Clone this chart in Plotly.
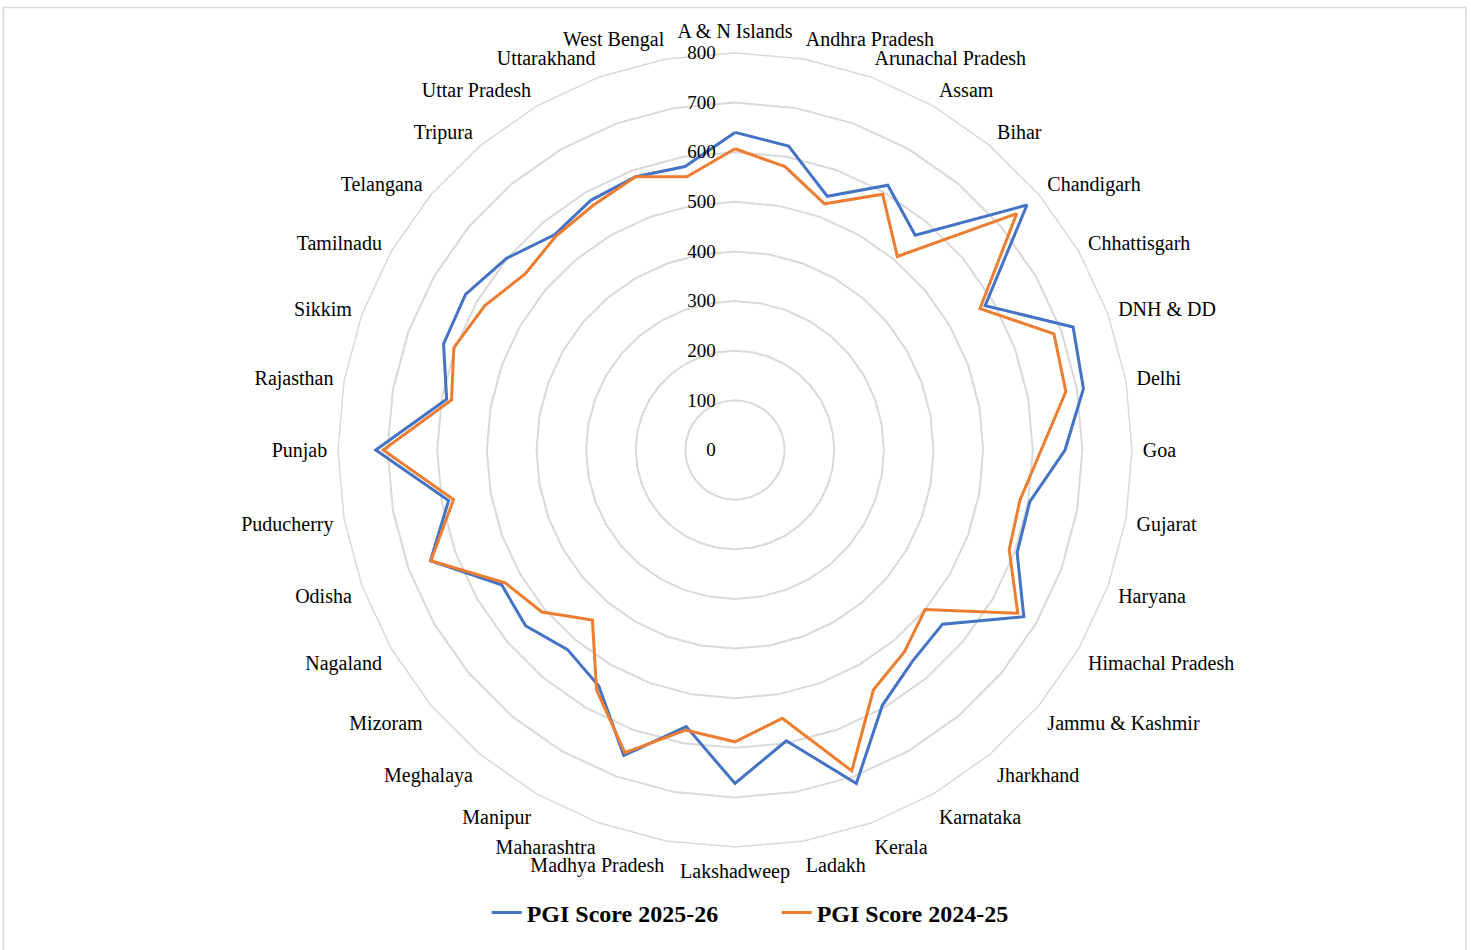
import plotly.graph_objects as go

categories = ["A & N Islands", "Andhra Pradesh", "Arunachal Pradesh", "Assam", "Bihar",
              "Chandigarh", "Chhattisgarh", "DNH & DD", "Delhi", "Goa", "Gujarat", "Haryana",
              "Himachal Pradesh", "Jammu & Kashmir", "Jharkhand", "Karnataka", "Kerala",
              "Ladakh", "Lakshadweep", "Madhya Pradesh", "Maharashtra", "Manipur",
              "Meghalaya", "Mizoram", "Nagaland", "Odisha", "Puducherry", "Punjab",
              "Rajasthan", "Sikkim", "Tamilnadu", "Telangana", "Tripura", "Uttar Pradesh",
              "Uttarakhand", "West Bengal"]

pgi_2025_26 = [640, 622, 544, 616, 565, 768, 582, 725, 713, 665, 603, 605,
               672, 546, 556, 594, 715, 595, 672, 566, 655, 549,
               525, 551, 543, 653, 586, 724, 590, 625, 627, 601,
               566, 581, 586, 580]

pgi_2024_25 = [607, 580, 528, 595, 509, 741, 570, 684, 677, 617, 583, 588,
               658, 500, 531, 558, 688, 549, 588, 573, 649, 558,
               447, 508, 535, 652, 576, 709, 580, 603, 582, 552,
               562, 570, 586, 559]

radial_ticks = [0, 100, 200, 300, 400, 500, 600, 700, 800]

BLUE = "#4472C4"
ORANGE = "#ED7D31"
GRID = "#D9D9D9"
FONT = "Liberation Serif"

fig = go.Figure()
fig.add_trace(go.Scatterpolar(
    r=pgi_2025_26 + pgi_2025_26[:1], theta=categories + categories[:1],
    mode="lines", name="PGI Score 2025-26",
    line=dict(color=BLUE, width=3)))
fig.add_trace(go.Scatterpolar(
    r=pgi_2024_25 + pgi_2024_25[:1], theta=categories + categories[:1],
    mode="lines", name="PGI Score 2024-25",
    line=dict(color=ORANGE, width=3)))

W, H = 1471, 950
cx, cy, R = 735, 450, 397

fig.update_layout(
    width=W, height=H,
    margin=dict(l=0, r=0, t=0, b=0),
    paper_bgcolor="white", plot_bgcolor="white",
    font=dict(family=FONT, color="black", size=20),
    showlegend=True,
    legend=dict(orientation="h", x=0.528, xanchor="center", y=(H - 913) / H, yanchor="middle",
                font=dict(family=FONT, size=24, color="black", weight="bold"),
                entrywidth=245, entrywidthmode="pixels"),
    polar=dict(
        domain=dict(x=[(cx - R) / W, (cx + R) / W], y=[(H - cy - R) / H, (H - cy + R) / H]),
        bgcolor="white",
        gridshape="linear",
        angularaxis=dict(
            direction="clockwise", rotation=90,
            showgrid=False, showline=True, linecolor=GRID, linewidth=1.5,
            ticks="outside", ticklen=6, tickcolor="rgba(0,0,0,0)",
            tickfont=dict(family=FONT, size=20, color="black"),
            categoryorder="array", categoryarray=categories,
        ),
        radialaxis=dict(
            range=[0, 800], tickvals=radial_ticks, ticktext=[str(v) for v in radial_ticks],
            angle=90, tickangle=90, side="counterclockwise",
            showline=False, ticks="outside", ticklen=12, tickcolor="rgba(0,0,0,0)",
            gridcolor=GRID, gridwidth=1.5,
            tickfont=dict(family=FONT, size=19, color="black"),
        ),
    ),
    shapes=[dict(type="rect", xref="paper", yref="paper",
                 x0=3.5 / W, x1=1466 / W, y0=-0.05, y1=(H - 7.5) / H,
                 line=dict(color=GRID, width=1.5), fillcolor="rgba(0,0,0,0)", layer="below")],
)

fig.write_html("out.html")
